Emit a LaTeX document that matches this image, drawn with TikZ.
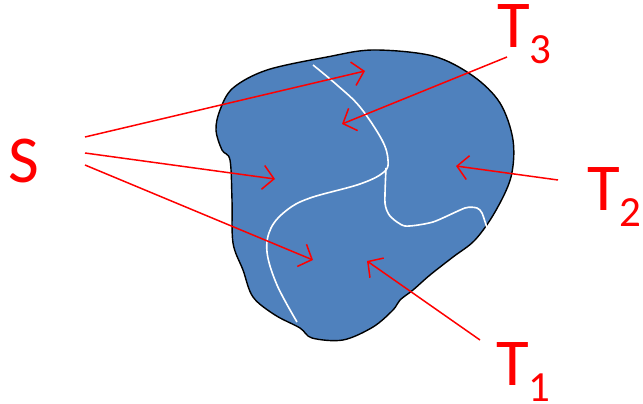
\documentclass[tikz,border=0pt]{standalone}
\usepackage{fontspec}
\setmainfont{Carlito}
\usetikzlibrary{arrows.meta}
\definecolor{blobblue}{RGB}{79,129,189}
\tikzset{
  lbl/.style={text=red,font=\fontsize{67}{67}\selectfont,inner sep=0pt,anchor=base west},
  rarrow/.style={draw=red,line width=1.5pt,-{Straight Barb[length=11pt,width=24pt,line width=1.5pt]}},
  split/.style={draw=white,line width=1.6pt}
}
\newcommand{\subdig}[1]{\raisebox{-16pt}{\fontsize{43}{43}\selectfont #1}}
\begin{document}
\begin{tikzpicture}[x=1pt,y=-1pt]
\useasboundingbox (0,0) rectangle (643,404);
% blob
\draw[fill=blobblue,line width=1.4pt,line join=round]
  plot[smooth cycle,tension=0.55] coordinates {
  (373,50) (433,56) (473,76) (500,103) (513,140) (511,177) (495,212)
  (475,240) (453,257) (430,275) (413,290) (400,300) (393,310) (373,327)
  (343,340) (312,338) (300,328) (275,315) (253,297) (243,270) (233,243)
  (232,200) (230,160) (222,150) (216,130) (220,110) (233,88) (267,70) (327,57)};
% white boundaries
\draw[split] plot[smooth,tension=0.6] coordinates {
  (313,65) (337,85) (360,107) (382,140) (388,160) (384,172) (360,184)
  (310,198) (287,210) (271,228) (267,252) (277,285) (297,322)};
\draw[split] plot[smooth,tension=0.4] coordinates {
  (386,168) (385,203) (390,216) (405,226) (433,222) (465,208) (477,208) (482,213) (487,228)};
% labels
\node[lbl] (S) at (8,182) {S};
\node[lbl] (T3) at (497,48) {T\subdig{3}};
\node[lbl] (T2) at (587,210) {T\subdig{2}};
\node[lbl] (T1) at (496,385) {T\subdig{1}};
% arrow end points
\coordinate (s1) at (85,137);
\coordinate (s2) at (85,153);
\coordinate (s3) at (85,165);
\coordinate (e1) at (365,71);
\coordinate (e2) at (275,179);
\coordinate (e3) at (313,260);
\coordinate (t3s) at (507,57);
\coordinate (t3e) at (342,124);
\coordinate (t2s) at (558,180);
\coordinate (t2e) at (456,166);
\coordinate (t1s) at (480,340);
\coordinate (t1e) at (367,261);
\draw[rarrow] (s1) -- (e1);
\draw[rarrow] (s2) -- (e2);
\draw[rarrow] (s3) -- (e3);
\draw[rarrow] (t3s) -- (t3e);
\draw[rarrow] (t2s) -- (t2e);
\draw[rarrow] (t1s) -- (t1e);
\end{tikzpicture}
\end{document}
